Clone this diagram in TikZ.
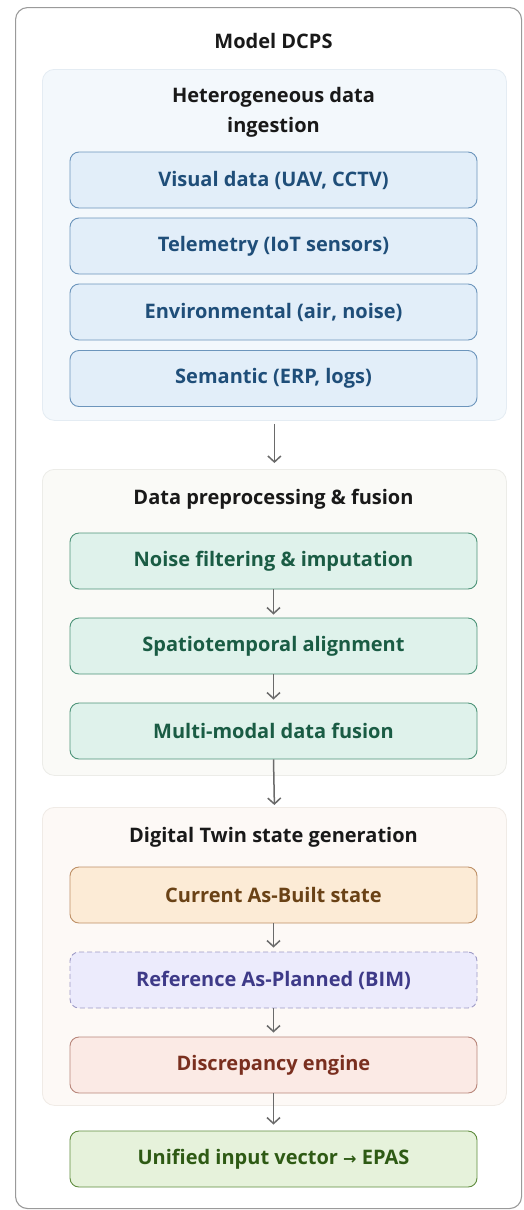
\documentclass[tikz,border=0pt]{standalone}
\usepackage{fontspec}
\setmainfont{Open Sans}
\newfontfamily\symfont{DejaVu Sans}
\usetikzlibrary{arrows.meta}
\definecolor{outerb}{HTML}{9A9A9A}
\definecolor{g1fill}{HTML}{F3F8FC}
\definecolor{g1draw}{HTML}{E4ECF3}
\definecolor{g2fill}{HTML}{FAFAF7}
\definecolor{g2draw}{HTML}{ECECE8}
\definecolor{g3fill}{HTML}{FDF9F6}
\definecolor{g3draw}{HTML}{F0EBE6}
\definecolor{bfill}{HTML}{E2EEF9}
\definecolor{bdraw}{HTML}{6C95BC}
\definecolor{btext}{HTML}{1F4E79}
\definecolor{tfill}{HTML}{DFF2EB}
\definecolor{tdraw}{HTML}{4E9479}
\definecolor{ttext}{HTML}{1A5C44}
\definecolor{ofill}{HTML}{FCEBD6}
\definecolor{odraw}{HTML}{BE9066}
\definecolor{otext}{HTML}{6A4216}
\definecolor{pfill}{HTML}{ECEBFC}
\definecolor{pdraw}{HTML}{9E9BC6}
\definecolor{ptext}{HTML}{3E3A88}
\definecolor{rfill}{HTML}{FBEAE5}
\definecolor{rdraw}{HTML}{B8867A}
\definecolor{rtext}{HTML}{7A2F1F}
\definecolor{lfill}{HTML}{E6F2DB}
\definecolor{ldraw}{HTML}{5F8C3E}
\definecolor{ltext}{HTML}{2E5A14}
\definecolor{arr}{HTML}{6A6A6A}
\tikzset{
  every node/.style={font=\bfseries\fontsize{20}{30}\selectfont, inner sep=0pt},
  frame/.style={draw, rounded corners=12pt, line width=0.8pt, anchor=north west},
  itembox/.style={rounded corners=9pt, line width=0.9pt, minimum width=407pt, minimum height=56pt},
  bluebox/.style={itembox, draw=bdraw, fill=bfill, text=btext},
  tealbox/.style={itembox, draw=tdraw, fill=tfill, text=ttext},
  orangebox/.style={itembox, draw=odraw, fill=ofill, text=otext},
  purplebox/.style={itembox, draw=pdraw, fill=pfill, text=ptext, dashed, dash pattern=on 5pt off 3pt},
  redbox/.style={itembox, draw=rdraw, fill=rfill, text=rtext},
  greenbox/.style={itembox, draw=ldraw, fill=lfill, text=ltext},
  title/.style={text=black!90, align=center},
  flow/.style={draw=arr, line width=1.5pt, -{Straight Barb[length=6pt,width=13pt,line width=1.5pt]}},
}
\begin{document}
\begin{tikzpicture}[x=1pt,y=-1pt]
\useasboundingbox (0,0) rectangle (524,1210);
\node[frame, draw=outerb, fill=white, line width=1.1pt, minimum width=506pt, minimum height=1201pt] (outer) at (15,7) {};
\node[title] (maint) at (273.5,41) {Model DCPS};
% group 1
\node[frame, draw=g1draw, fill=g1fill, minimum width=464pt, minimum height=351pt] (g1) at (42,69) {};
\node[title] (g1t) at (273.5,112) {Heterogeneous data\\ingestion};
\node[bluebox] (b1) at (273.5,180) {Visual data (UAV, CCTV)};
\node[bluebox] (b2) at (273.5,246) {Telemetry (IoT sensors)};
\node[bluebox] (b3) at (273.5,312) {Environmental (air, noise)};
\node[bluebox] (b4) at (273.5,378.5) {Semantic (ERP, logs)};
% group 2
\node[frame, draw=g2draw, fill=g2fill, minimum width=464pt, minimum height=306pt] (g2) at (42,469) {};
\node[title] (g2t) at (273.5,499) {Data preprocessing \& fusion};
\node[tealbox] (c1) at (273.5,561) {Noise filtering \& imputation};
\node[tealbox] (c2) at (273.5,646) {Spatiotemporal alignment};
\node[tealbox] (c3) at (273.5,731) {Multi-modal data fusion};
% group 3
\node[frame, draw=g3draw, fill=g3fill, minimum width=464pt, minimum height=298pt] (g3) at (42,807) {};
\node[title] (g3t) at (273.5,837) {Digital Twin state generation};
\node[orangebox] (d1) at (273.5,895) {Current As-Built state};
\node[purplebox] (d2) at (273.5,980) {Reference As-Planned (BIM)};
\node[redbox] (d3) at (273.5,1065) {Discrepancy engine};
% final
\node[greenbox] (f1) at (273.5,1159) {Unified input vector\ {\symfont\fontsize{16}{16}\selectfont →}\ EPAS};
% arrows
\draw[flow] ([yshift=-3pt]g1.south) -- ([yshift=6pt]g2.north);
\draw[flow] (c1.south) -- ([yshift=3pt]c2.north);
\draw[flow] (c2.south) -- ([yshift=3pt]c3.north);
\draw[flow] (c3.south) -- ([yshift=2pt]g3.north);
\draw[flow] (d1.south) -- ([yshift=4pt]d2.north);
\draw[flow] (d2.south) -- ([yshift=4pt]d3.north);
\draw[flow] (d3.south) -- ([yshift=6pt]f1.north);
\end{tikzpicture}
\end{document}
